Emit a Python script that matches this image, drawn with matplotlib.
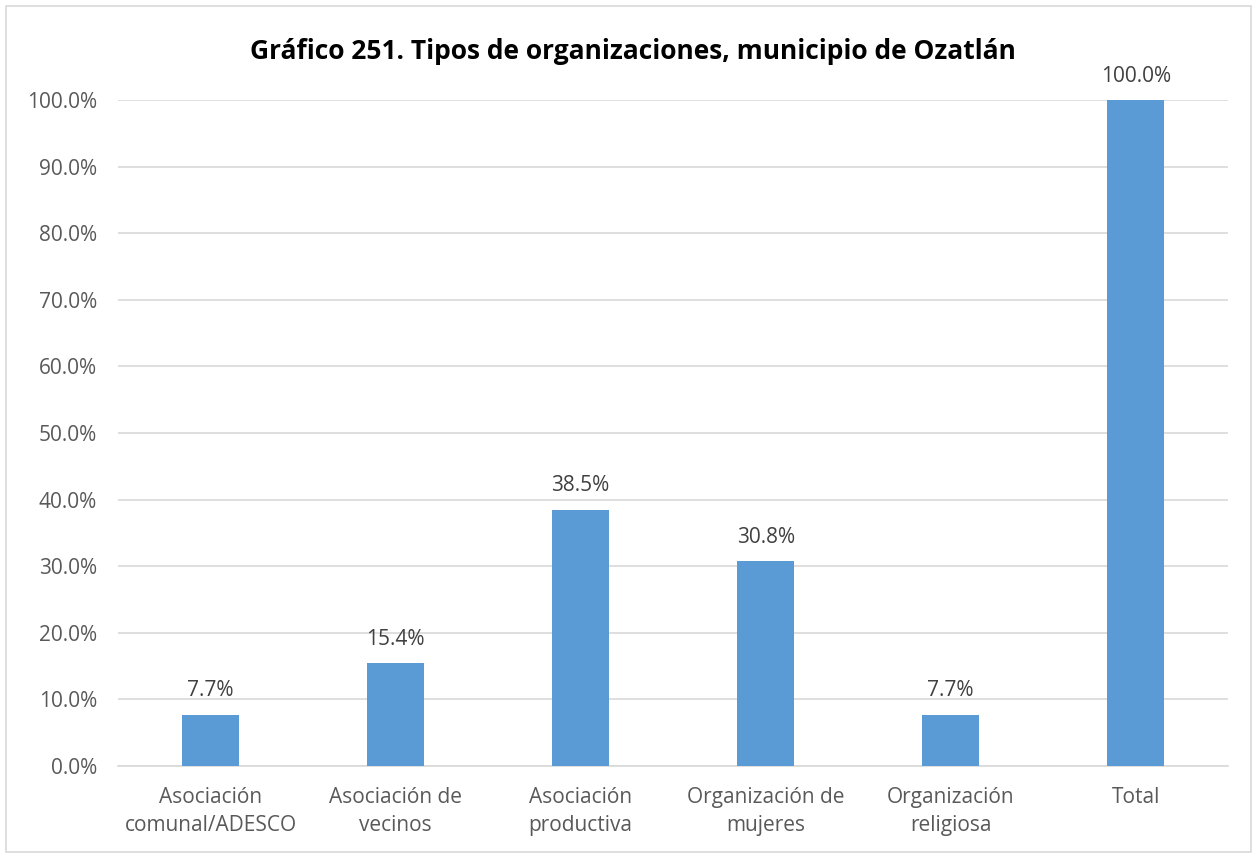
import matplotlib
matplotlib.use('Agg')
import matplotlib.pyplot as plt
from matplotlib.patches import Rectangle

categories = ["Asociación\ncomunal/ADESCO", "Asociación de\nvecinos", "Asociación\nproductiva",
              "Organización de\nmujeres", "Organización\nreligiosa", "Total"]
values = [7.7, 15.4, 38.5, 30.8, 7.7, 100.0]
yticks = [0, 10, 20, 30, 40, 50, 60, 70, 80, 90, 100]

bar_color = '#5B9BD5'
grid_color = '#D9D9D9'
text_color = '#595959'

plt.rcParams['font.family'] = ['Open Sans', 'DejaVu Sans']

fig = plt.figure(figsize=(12.57, 8.57), dpi=100)
ax = fig.add_axes([0.0939, 0.1062, 0.9831 - 0.0939 - 0.006, 0.8833 - 0.1062])

x = list(range(len(categories)))
ax.bar(x, values, width=0.31, color=bar_color, zorder=3)
for xi, v in zip(x, values):
    ax.text(xi, v + 2.0, f"{v:.1f}%", ha='center', va='bottom', fontsize=15, color='#404040')

ax.set_xlim(-0.5, len(categories) - 0.5)
ax.set_ylim(0, 100)
ax.set_yticks(yticks)
ax.set_yticklabels([f"{t:.1f}%" for t in yticks], fontsize=15, color=text_color)
ax.set_xticks(x)
ax.set_xticklabels(categories, fontsize=15, color=text_color, linespacing=1.45)
ax.tick_params(axis='both', length=0)
ax.tick_params(axis='y', pad=15)
ax.tick_params(axis='x', pad=15)
ax.grid(axis='y', color=grid_color, linewidth=1.2, zorder=0)
for s in ['top', 'right', 'left']:
    ax.spines[s].set_visible(False)
ax.spines['bottom'].set_color(grid_color)
ax.spines['bottom'].set_linewidth(1.2)

fig.text(0.5036, 0.94, "Gráfico 251. Tipos de organizaciones, municipio de Ozatlán",
         ha='center', va='center', fontsize=19, fontweight='bold', color='black')

fig.patches.append(Rectangle((0.005, 0.006), 0.99, 0.987, transform=fig.transFigure,
                             fill=False, edgecolor=grid_color, linewidth=1.2))

fig.savefig("out.png", dpi=100)
